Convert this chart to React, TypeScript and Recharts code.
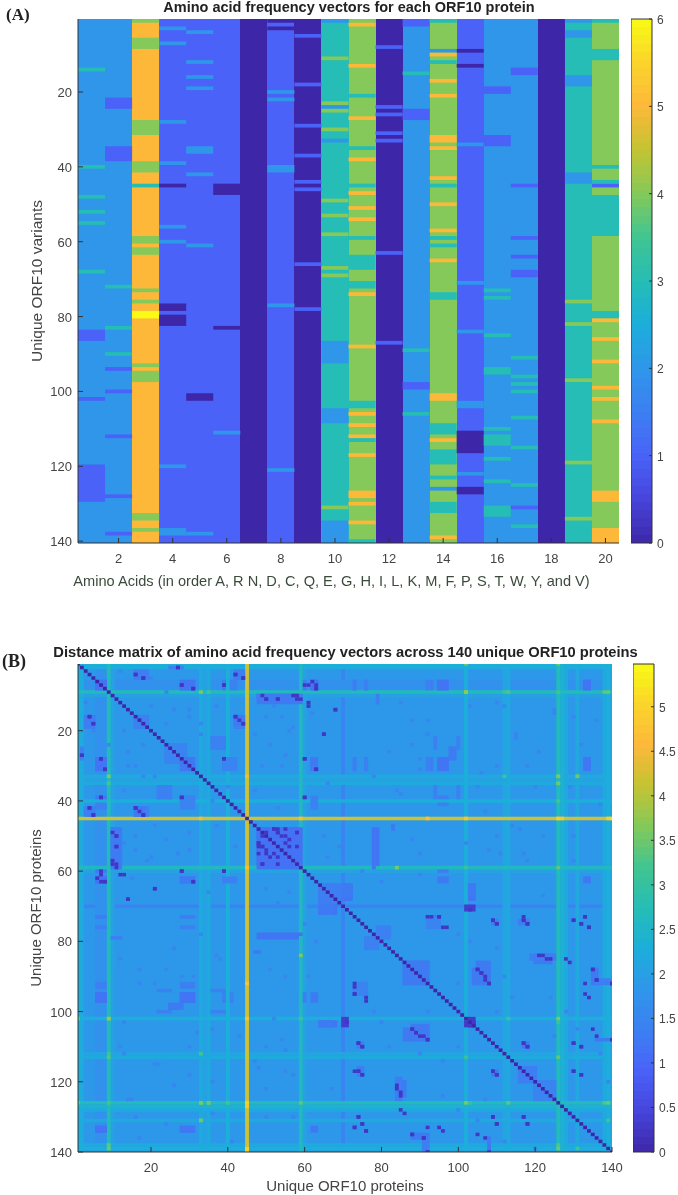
import React from "react";
import { ComposedChart, XAxis, YAxis, ReferenceArea, Label, Scatter } from "recharts";

// ---------- Panel A: amino acid frequency, per column [fromRow, toRow, value] runs on a base value
const aminoTicks = [2, 4, 6, 8, 10, 12, 14, 16, 18, 20];
const variantTicks = [20, 40, 60, 80, 100, 120, 140];
const colorbarATicks = [0, 1, 2, 3, 4, 5, 6];
const columnBases = [2, 2, 5, 1, 1, 1, 0, 1, 0, 3, 4, 0, 2, 4, 1, 2, 2, 0, 3, 4];
const col01 = [[14,14,3],[40,40,3],[48,48,3],[52,52,3],[55,55,3],[68,68,3],[84,86,1],[102,102,1],[120,129,1]];
const col02 = [[22,24,1],[35,38,1],[72,72,3],[83,83,3],[90,90,3],[94,94,1],[100,100,1],[112,112,1],[128,128,1],[138,138,1]];
const col03 = [[1,1,4],[6,8,4],[28,31,4],[39,41,4],[45,45,3],[59,60,4],[62,63,4],[73,73,4],[76,76,4],[79,80,6],[93,93,4],[95,97,4],[133,134,4],[137,137,4]];
const col04 = [[3,3,2],[7,7,2],[28,28,2],[39,39,2],[45,45,0],[56,56,2],[60,60,2],[77,78,0],[80,82,0],[120,120,2],[137,138,2]];
const col05 = [[4,4,2],[12,12,2],[16,16,2],[19,19,2],[35,36,2],[42,42,2],[61,61,2],[101,102,0],[138,138,2]];
const col06 = [[45,47,0],[83,83,0],[111,111,2]];
const col07: number[][] = [];
const col08 = [[1,1,0],[3,3,0],[20,20,2],[22,22,2],[40,41,2],[77,77,2],[121,121,2]];
const col09 = [[5,5,1],[18,18,1],[29,29,1],[37,37,1],[44,44,1],[46,46,1],[66,66,1],[78,78,1]];
const col10 = [[1,1,2],[11,11,4],[23,23,4],[24,24,2],[25,25,4],[30,30,4],[33,33,2],[49,49,4],[53,53,4],[58,58,4],[67,67,4],[69,69,4],[87,92,2],[105,108,2],[131,131,4],[135,140,2]];
const col11 = [[2,2,5],[13,13,5],[21,21,3],[27,27,5],[35,35,3],[38,38,5],[45,45,3],[47,47,5],[51,51,5],[54,54,5],[59,59,3],[64,67,3],[71,72,3],[74,74,5],[88,88,5],[103,104,3],[106,106,5],[109,109,5],[112,112,5],[113,113,3],[117,117,5],[127,128,5],[130,130,5],[135,135,5],[140,140,3]];
const col12 = [[8,8,1],[24,24,1],[26,26,1],[31,31,1],[33,33,1],[63,63,1],[87,87,1]];
const col13 = [[1,2,1],[15,15,3],[25,27,1],[89,89,3],[98,99,1],[106,106,3]];
const col14 = [[1,1,3],[9,9,2],[10,10,5],[12,12,3],[17,17,5],[21,21,5],[32,33,5],[35,35,5],[43,43,5],[45,45,3],[50,50,5],[57,57,5],[59,59,3],[61,61,3],[65,65,5],[74,75,3],[101,102,5],[109,111,3],[113,113,5],[116,119,3],[123,123,3],[126,126,2],[130,132,3],[139,139,5]];
const col15 = [[9,9,0],[13,13,0],[34,34,2],[71,71,2],[84,84,2],[103,104,2],[111,116,0],[122,122,2],[126,127,0]];
const col16 = [[19,20,1],[32,34,1],[73,73,3],[75,75,3],[85,85,3],[94,95,3],[110,110,3],[112,114,3],[118,118,3],[124,124,3],[131,133,3]];
const col17 = [[14,15,1],[45,45,1],[59,59,1],[64,64,1],[68,69,1],[91,91,3],[96,96,3],[98,98,3],[100,100,3],[107,107,3],[115,115,3],[125,125,3],[131,131,1],[136,136,3]];
const col18: number[][] = [];
const col19 = [[1,1,2],[4,5,2],[16,18,2],[42,44,2],[76,76,4],[82,82,4],[97,97,4],[119,119,4],[134,134,4]];
const col20 = [[1,1,3],[9,11,3],[40,40,3],[44,44,3],[45,45,1],[48,58,3],[79,80,3],[81,81,5],[86,86,5],[92,92,5],[99,99,5],[102,102,5],[108,108,5],[127,129,5],[137,140,5]];
const columnRuns = [col01,col02,col03,col04,col05,col06,col07,col08,col09,col10,col11,col12,col13,col14,col15,col16,col17,col18,col19,col20];

// ---------- Panel B: distance matrix (symmetric), read as stripes, blocks, and single cells
const proteinXTicks = [20, 40, 60, 80, 100, 120, 140];
const proteinYTicks = [20, 40, 60, 80, 100, 120, 140];
const colorbarBTicks = [0, 0.5, 1, 1.5, 2, 2.5, 3, 3.5, 4, 4.5, 5];
const matrixBackground = 1.87;
const matrixSize = 140;
// [index, value], painted from the lowest value up so the brightest stripes stay unbroken
const stripes = [[70,1.45],[6,1.72],[7,1.72],[8,1.72],[10,2.05],[34,2.05],[60,2.05],[112,2.1],[131,2.15],[140,2.1],[33,2.2],[35,2.2],[113,2.2],[128,2.2],[138,2.2],[2,2.25],[1,2.3],[40,2.3],[102,2.3],[139,2.3],[127,2.4],[59,2.6],[9,2.65],[126,2.65],[45,4.2]];
// [rowFrom, rowTo, colFrom, colTo, value], mirrored across the diagonal
const blocks = [
  [6,8,6,8,1.2],[4,5,16,18,1.3],[2,2,25,28,1.4],[6,8,28,31,1.25],[6,8,39,39,1.3],[4,5,42,44,1.35],[6,8,60,60,1.3],[6,8,62,63,1.2],
  [10,11,48,58,1.15],[16,19,3,5,1.35],[28,31,6,8,1.2],[16,19,16,19,1.4],[16,19,42,44,1.4],[24,28,24,29,1.45],[22,25,36,39,1.4],
  [28,31,39,40,1.4],[28,31,62,63,1.2],[28,31,28,31,1.25],[36,39,22,25,1.4],[39,42,28,31,1.45],[41,42,6,8,1.4],[39,42,62,63,1.4],
  [42,44,3,5,1.35],[42,44,16,18,1.3],[48,59,48,58,1.15],[48,59,10,12,1.3],[62,63,6,8,1.2],[62,63,28,31,1.3],[64,70,64,68,1.35],
  [73,73,6,8,1.4],[76,76,6,8,1.4],[73,73,28,31,1.4],[76,76,28,31,1.4],[70,72,64,68,1.2],[79,79,48,58,1.2],[79,79,10,12,1.35],[83,83,47,48,1.3],
  [93,93,6,8,1.35],[95,97,6,8,1.2],[93,93,28,31,1.35],[95,97,28,31,1.2],[98,99,25,28,1.3],[94,94,22,25,1.4],[100,100,22,25,1.4],[94,94,36,39,1.4],
  [100,100,36,39,1.4],[103,104,64,68,1.2],[95,97,60,60,1.35],[95,97,62,63,1.3],[95,97,39,39,1.4],[95,97,41,41,1.4],[133,134,6,8,1.2],[133,134,28,31,1.25],[133,134,62,63,1.25],
  [6,8,73,73,1.35],[6,8,76,76,1.4],[6,8,92,92,1.4],[6,8,95,97,1.2],[6,8,133,134,1.2],[28,31,73,73,1.35],[28,31,76,76,1.4],[28,31,92,92,1.4],[28,31,95,97,1.2],[28,31,133,134,1.25],
  [25,27,98,99,1.3],[64,67,70,72,1.3],[64,67,103,104,1.3],[48,59,78,78,1.2],[73,73,92,95,1.4],[74,75,116,118,1.35],[74,75,109,110,1.35],
  [92,95,74,76,1.45],[76,78,79,82,1.4],[80,82,76,79,1.4],[86,92,86,92,1.3],[88,92,104,108,1.3],[88,92,135,136,1.3],[84,86,120,124,1.3],
  [119,125,84,85,1.35],[105,108,86,92,1.3],[116,120,116,119,1.35],[120,125,120,125,1.45],[103,104,102,104,0.3],[70,71,102,104,0.35],[136,140,108,108,1.3],[136,140,91,92,1.35],[117,118,109,110,1.3],
];
// [row, col], mirrored across the diagonal: near-identical pairs
const darkCells = [
  [4,16],[5,18],[2,27],[8,31],[7,28],[7,39],[4,42],[5,44],[12,61],[14,68],[10,49],[11,50],[11,53],[10,57],[11,58],[7,61],[7,63],[8,63],
  [16,4],[18,5],[27,2],[28,7],[31,8],[16,42],[18,44],[21,65],[28,39],[28,60],[31,63],[39,7],[39,28],[39,60],[42,4],[44,5],[42,16],[43,17],[44,18],
  [48,52],[49,53],[48,55],[49,58],[50,55],[51,56],[49,50],[48,53],[52,48],[53,49],[54,50],[55,52],[56,53],[58,49],[58,53],
  [50,11],[53,11],[58,10],[59,11],[60,7],[60,28],[60,39],[61,13],[62,6],[63,8],[63,31],[65,21],[68,14],
  [73,92],[73,95],[74,109],[75,110],[74,117],[75,118],[74,130],[75,132],[73,133],[76,134],[76,96],[93,73],[95,73],[97,76],[103,71],
  [88,105],[89,106],[90,107],[92,108],[88,135],[91,136],[92,140],[84,122],[85,124],[86,129],[121,84],[123,85],[105,88],[106,89],[107,91],[108,92],
  [109,74],[110,75],[117,74],[118,75],[117,73],[109,117],[110,118],[117,109],[118,110],[109,130],[110,132],[117,130],[118,132],
  [130,74],[132,75],[133,73],[134,76],[133,92],[133,95],[134,96],[130,109],[132,110],[130,117],[132,118],[135,105],[136,107],[135,88],[136,91],[128,85],[140,108],[140,92],
];
const darkCellValue = 0.25;
// [row, col, value], mirrored: brighter crossings of stripes
const brightCells = [
  [33,9,3.6],[35,9,3.2],[102,9,3.7],[102,1,3.5],[126,1,3.4],[126,9,3.2],[126,33,3.4],[126,35,3.4],[126,40,3.2],[131,33,3.4],[112,33,3.2],[112,9,3.1],
  [9,102,3.8],[33,126,3.6],[35,126,3.5],[33,131,3.5],[9,138,3.4],[59,84,3.6],[59,102,3.1],[102,126,3.6],[113,102,3.1],[126,103,3.1],[126,113,3.4],[138,126,3.3],[9,113,3.3],[59,126,3.4],[139,126,3.5],[139,131,3.2],[139,9,3.5],
  [45,92,4.7],[45,102,4.7],[45,126,4.9],[45,127,4.8],[45,139,4.9],[45,140,5.1],[45,59,4.6],[45,33,4.5],
];
// [row, col], mirrored: scattered slightly lower cells
const softCells = [
  [3,12],[5,20],[9,24],[13,20],[14,30],[21,33],[24,18],[26,14],[30,16],[33,18],[37,13],[40,36],[47,21],[50,16],[54,30],[56,20],[62,15],[66,35],
  [13,52],[16,54],[19,57],[24,51],[27,55],[30,49],[37,47],[42,53],[50,65],[53,69],[56,66],[60,75],[63,80],[12,85],[17,92],[22,100],[24,88],
  [31,90],[37,84],[41,96],[43,107],[47,114],[50,122],[52,102],[54,108],[55,117],[57,130],[36,120],[36,105],[30,110],[22,115],[15,125],[13,112],[16,130],
  [78,33],[82,26],[85,38],[88,17],[90,28],[92,21],[103,13],[106,32],[110,12],[115,21],[118,30],[121,26],[125,14],[129,36],[132,24],[136,17],[137,41],
  [78,52],[88,51],[90,55],[90,61],[110,50],[111,55],[116,48],[118,57],[122,67],[130,50],[100,92],[103,80],[112,90],[114,96],[128,100],[131,105],[137,112],[139,120],[82,110],[78,100],[96,124],[100,110],[107,125],
];
const softValue = 1.5;

const colorStops = ["#3E26A8","#4645DC","#4A62F8","#3C80F2","#2F96EA","#1CAEDB","#25BDB5","#40C591","#84C95A","#C4C332","#FDB83A","#FAD42A","#F9FB15"];
const colorbarSteps = 64;

function hex(c: string) { return [1, 3, 5].map((i) => parseInt(c.slice(i, i + 2), 16)); }
function colorAt(t: number) {
  const p = Math.max(0, Math.min(1, t)) * (colorStops.length - 1);
  const i = Math.min(colorStops.length - 2, Math.floor(p));
  const a = hex(colorStops[i]), b = hex(colorStops[i + 1]);
  return "rgb(" + a.map((v, k) => Math.round(v + (b[k] - v) * (p - i))).join(",") + ")";
}
const tickColor = "#444";
const font = "'Liberation Sans', Arial, sans-serif";

function BottomTick({ x, y, payload }: any) {
  return <g><line x1={x} x2={x} y1={y} y2={y - 5} stroke="#333" /><text x={x} y={y + 20} textAnchor="middle" fill={tickColor} fontSize={13} fontFamily={font}>{payload.value}</text></g>;
}
function TopTick({ x, y }: any) {
  return <line x1={x} x2={x} y1={y} y2={y + 5} stroke="#333" />;
}
function LeftTick({ x, y, payload }: any) {
  return <g><line x1={x} x2={x + 5} y1={y} y2={y} stroke="#333" /><text x={x - 6} y={y + 5} textAnchor="end" fill={tickColor} fontSize={13} fontFamily={font}>{payload.value}</text></g>;
}
function RightInnerTick({ x, y }: any) {
  return <line x1={x} x2={x - 5} y1={y} y2={y} stroke="#333" />;
}
function BarTick({ x, y, payload }: any) {
  return <g><line x1={x} x2={x - 3} y1={y} y2={y} stroke="#333" /><text x={x + 5} y={y + 5} textAnchor="start" fill={tickColor} fontSize={12} fontFamily={font}>{payload.value}</text></g>;
}
const nothing = () => <g />;

function area(key: string, x1: number, x2: number, y1: number, y2: number, fill: string, crisp = false) {
  return <ReferenceArea key={key} xAxisId="b" yAxisId="l" x1={x1} x2={x2} y1={y1} y2={y2} fill={fill} fillOpacity={1} stroke="none" shapeRendering={crisp ? "crispEdges" : "auto"} />;
}
// Series that carry each axis pair's extent; the heat cells are drawn on top through the same scales.
function anchor(xId: string, yId: string, xs: number[], ys: number[]) {
  return <Scatter xAxisId={xId} yAxisId={yId} data={[{ x: xs[0], y: ys[0] }, { x: xs[1], y: ys[1] }]} dataKey="y" isAnimationActive={false} shape={nothing} legendType="none" />;
}

function Colorbar({ left, top, height, plotHeight, max, ticks }: any) {
  const steps = Array.from({ length: colorbarSteps }, (_, i) => i);
  return (
    <div style={{ position: "absolute", left, top }}>
      <ComposedChart width={45} height={height} margin={{ top: 10, left: 0, right: 0, bottom: height - plotHeight - 10 }}>
        <XAxis xAxisId="b" dataKey="x" type="number" domain={[0, 1]} hide />
        <YAxis yAxisId="l" dataKey="y" orientation="right" type="number" domain={[0, max]} ticks={ticks} interval={0} width={24} axisLine={false} tickLine={false} tickSize={0} tickMargin={0} tick={<BarTick />} />
        {anchor("b", "l", [0, 1], [0, max])}
        {steps.map((i) => area("c" + i, 0, 1, (i / colorbarSteps) * max, ((i + 1) / colorbarSteps) * max, colorAt((i + 0.5) / colorbarSteps), true))}
        <ReferenceArea xAxisId="b" yAxisId="l" x1={0} x2={1} y1={0} y2={max} fillOpacity={0} stroke="#333" strokeWidth={1} />
      </ComposedChart>
    </div>
  );
}

const axisProps = { interval: 0, tickSize: 0, tickMargin: 0, tickLine: false, axisLine: { stroke: "#333" } } as any;

function PanelA() {
  const d: [number, number] = [0.5, 140.5];
  return (
    <ComposedChart width={678} height={600} margin={{ top: 19, right: 59, bottom: 0, left: 0 }}>
      <XAxis {...axisProps} xAxisId="b" dataKey="x" type="number" domain={[0.5, 20.5]} ticks={aminoTicks} height={57} tick={<BottomTick />}>
        <Label value="Amino Acids (in order A, R N, D, C, Q, E, G, H, I, L, K, M, F, P, S, T, W, Y, and V)" position="insideBottom" offset={14} fill="#3c4a3c" fontSize={14.6} fontFamily={font} dx={-17} />
      </XAxis>
      <XAxis {...axisProps} xAxisId="t" dataKey="x" orientation="top" type="number" domain={[0.5, 20.5]} ticks={aminoTicks} height={0} tick={<TopTick />} />
      <YAxis {...axisProps} yAxisId="l" dataKey="y" type="number" reversed domain={d} ticks={variantTicks} width={78} tick={<LeftTick />}>
        <Label value="Unique ORF10 variants" angle={-90} position="center" dx={-3} fill={tickColor} fontSize={15.5} fontFamily={font} />
      </YAxis>
      <YAxis {...axisProps} yAxisId="r" dataKey="y" orientation="right" type="number" reversed domain={d} ticks={variantTicks} width={0} tick={<RightInnerTick />} />
      {anchor("b", "l", [0.5, 20.5], d)}
      {anchor("t", "r", [0.5, 20.5], d)}
      {columnBases.map((v, i) => area("b" + i, i + 0.5, i + 1.5, 0.5, 140.5, colorAt(v / 6), true))}
      {columnRuns.flatMap((runs, i) => runs.map(([a, b, v], j) => area("r" + i + "-" + j, i + 0.5, i + 1.5, a - 0.5, b + 0.5, colorAt(v / 6))))}
      <text x={349} y={12} textAnchor="middle" fontFamily={font} fontSize={14.5} fontWeight="bold" fill="#222">Amino acid frequency vectors for each ORF10 protein</text>
      <text x={6} y={20} fontFamily="'Liberation Serif', serif" fontSize={17} fontWeight="bold" fill="#222">(A)</text>
    </ComposedChart>
  );
}

const cmax = 5.48;
const clampB = (v: number) => Math.max(1, Math.min(matrixSize, v));

function cellB(key: string, r1: number, r2: number, c1: number, c2: number, v: number) {
  return area(key, clampB(c1 - 0.5), clampB(c2 + 0.5), clampB(r1 - 0.5), clampB(r2 + 0.5), colorAt(v / cmax));
}

function PanelB() {
  const diag = Array.from({ length: matrixSize }, (_, i) => i + 1);
  const d: [number, number] = [1, 140];
  return (
    <ComposedChart width={678} height={555} margin={{ top: 24, right: 66, bottom: 0, left: 0 }}>
      <XAxis {...axisProps} xAxisId="b" dataKey="x" type="number" domain={d} ticks={proteinXTicks} height={43} tick={<BottomTick />}>
        <Label value="Unique ORF10 proteins" position="insideBottom" offset={4} fill={tickColor} fontSize={15} fontFamily={font} />
      </XAxis>
      <XAxis {...axisProps} xAxisId="t" dataKey="x" orientation="top" type="number" domain={d} ticks={proteinXTicks} height={0} tick={<TopTick />} />
      <YAxis {...axisProps} yAxisId="l" dataKey="y" type="number" reversed domain={d} ticks={proteinYTicks} width={78} tick={<LeftTick />}>
        <Label value="Unique ORF10 proteins" angle={-90} position="center" dx={-3} fill={tickColor} fontSize={15} fontFamily={font} />
      </YAxis>
      <YAxis {...axisProps} yAxisId="r" dataKey="y" orientation="right" type="number" reversed domain={d} ticks={proteinYTicks} width={0} tick={<RightInnerTick />} />
      {anchor("b", "l", d, d)}
      {anchor("t", "r", d, d)}
      {area("bg", 1, 140, 1, 140, colorAt(matrixBackground / cmax))}
      {stripes.flatMap(([i, v], k) => [cellB("sc" + k, 1, matrixSize, i, i, v), cellB("sr" + k, i, i, 1, matrixSize, v)])}
      {softCells.flatMap(([r, c], k) => [cellB("s1" + k, r, r, c, c, softValue), cellB("s2" + k, c, c, r, r, softValue)])}
      {brightCells.flatMap(([r, c, v], k) => [cellB("w1" + k, r, r, c, c, v), cellB("w2" + k, c, c, r, r, v)])}
      {blocks.flatMap(([a, b, c, d2, v], k) => [cellB("k1" + k, a, b, c, d2, v), cellB("k2" + k, c, d2, a, b, v)])}
      {darkCells.flatMap(([r, c], k) => [cellB("d1" + k, r, r, c, c, darkCellValue), cellB("d2" + k, c, c, r, r, darkCellValue)])}
      {diag.map((i) => cellB("g" + i, i, i, i, i, 0))}
      <text x={345.5} y={17} textAnchor="middle" fontFamily={font} fontSize={14.7} fontWeight="bold" fill="#222">Distance matrix of amino acid frequency vectors across 140 unique ORF10 proteins</text>
      <text x={2} y={27} fontFamily="'Liberation Serif', serif" fontSize={18} fontWeight="bold" fill="#222">(B)</text>
    </ComposedChart>
  );
}

export default function App() {
  return (
    <div style={{ position: "absolute", left: 0, top: 0, width: 678, height: 1195, background: "#fff", filter: "blur(0.35px)" }}>
      <div style={{ position: "absolute", left: 0, top: 0 }}><PanelA /></div>
      <Colorbar left={631} top={9} height={550} plotHeight={524} max={6} ticks={colorbarATicks} />
      <div style={{ position: "absolute", left: 0, top: 640 }}><PanelB /></div>
      <Colorbar left={633} top={654} height={515} plotHeight={488} max={cmax} ticks={colorbarBTicks} />
    </div>
  );
}
